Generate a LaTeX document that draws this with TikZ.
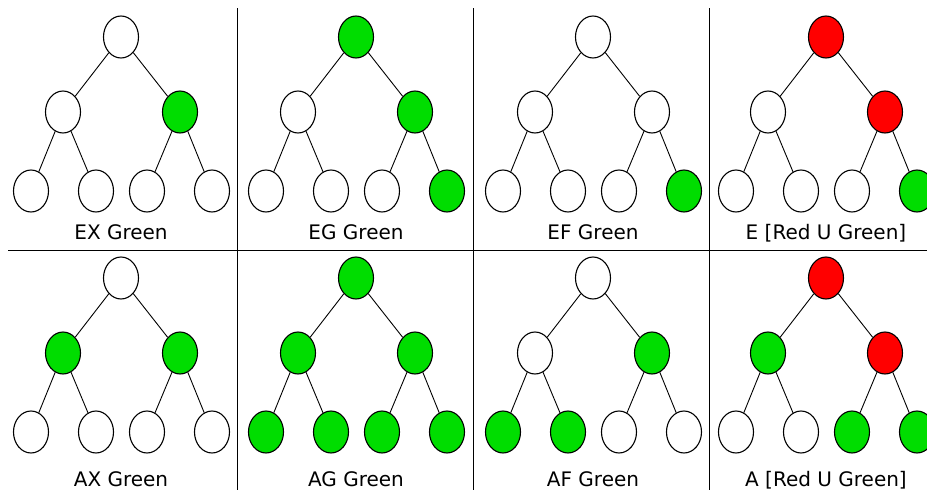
\documentclass[tikz,border=0pt]{standalone}
\usepackage{fontspec}
\setmainfont{DejaVu Sans}
\usetikzlibrary{shapes.geometric}

\definecolor{grn}{RGB}{0,221,0}
\definecolor{rd}{RGB}{255,0,0}

\tikzset{
  vtx/.style = {ellipse, draw, line width=1.1pt, minimum width=35pt,
                minimum height=42pt, inner sep=0pt},
  link/.style = {line width=0.9pt},
  caption/.style = {font=\fontsize{20}{24}\selectfont, anchor=base},
  divider/.style = {line width=1.8pt}
}

% one binary tree of depth two, #1 = name prefix, #2 = shift,
% #3..#9 = fill colours (root, left, right, then the four leaves)
\newcommand{\bintree}[9]{%
  \begin{scope}[shift={#2}]
    \node[vtx, fill=#3] (#1r)  at (121,37)  {};
    \node[vtx, fill=#4] (#1a)  at (63,112)  {};
    \node[vtx, fill=#5] (#1b)  at (180,112) {};
    \node[vtx, fill=#6] (#1aa) at (31,191)  {};
    \node[vtx, fill=#7] (#1ab) at (96,191)  {};
    \node[vtx, fill=#8] (#1ba) at (147,191) {};
    \node[vtx, fill=#9] (#1bb) at (212,191) {};
    \draw[link] (#1r) -- (#1a)  (#1r) -- (#1b)
                (#1a) -- (#1aa) (#1a) -- (#1ab)
                (#1b) -- (#1ba) (#1b) -- (#1bb);
  \end{scope}}

\begin{document}
\begin{tikzpicture}[x=1pt, y=-1pt]
  \useasboundingbox (0,0) rectangle (927,490);
  \clip (0,0) rectangle (927,490);

  % top row
  \bintree{ex}{(0,0)}{white}{white}{grn}{white}{white}{white}{white}
  \bintree{eg}{(235,0)}{grn}{white}{grn}{white}{white}{white}{grn}
  \bintree{ef}{(472,0)}{white}{white}{white}{white}{white}{white}{grn}
  \bintree{eu}{(705,0)}{rd}{white}{rd}{white}{white}{white}{grn}
  % bottom row
  \bintree{ax}{(0,241)}{white}{grn}{grn}{white}{white}{white}{white}
  \bintree{ag}{(235,241)}{grn}{grn}{grn}{grn}{grn}{grn}{grn}
  \bintree{af}{(472,241)}{white}{white}{grn}{grn}{grn}{white}{white}
  \bintree{au}{(705,241)}{rd}{grn}{rd}{white}{white}{grn}{grn}

  \node[caption] (exl) at (121,239) {EX Green};
  \node[caption] (egl) at (356,239) {EG Green};
  \node[caption] (efl) at (593,239) {EF Green};
  \node[caption] (eul) at (826,239) {E [Red U Green]};
  \node[caption] (axl) at (121,486) {AX Green};
  \node[caption] (agl) at (356,486) {AG Green};
  \node[caption] (afl) at (593,486) {AF Green};
  \node[caption] (aul) at (826,486) {A [Red U Green]};

  % grid lines between the panels
  \coordinate (h0) at (8,250.5);
  \coordinate (h1) at (927,250.5);
  \draw[divider] (h0) -- (h1);
  \foreach \gx [count=\i] in {237.5,473.5,709.5} {
    \coordinate (t\i) at (\gx,8);
    \coordinate (b\i) at (\gx,490);
    \draw[divider] (t\i) -- (b\i);
  }
\end{tikzpicture}
\end{document}
